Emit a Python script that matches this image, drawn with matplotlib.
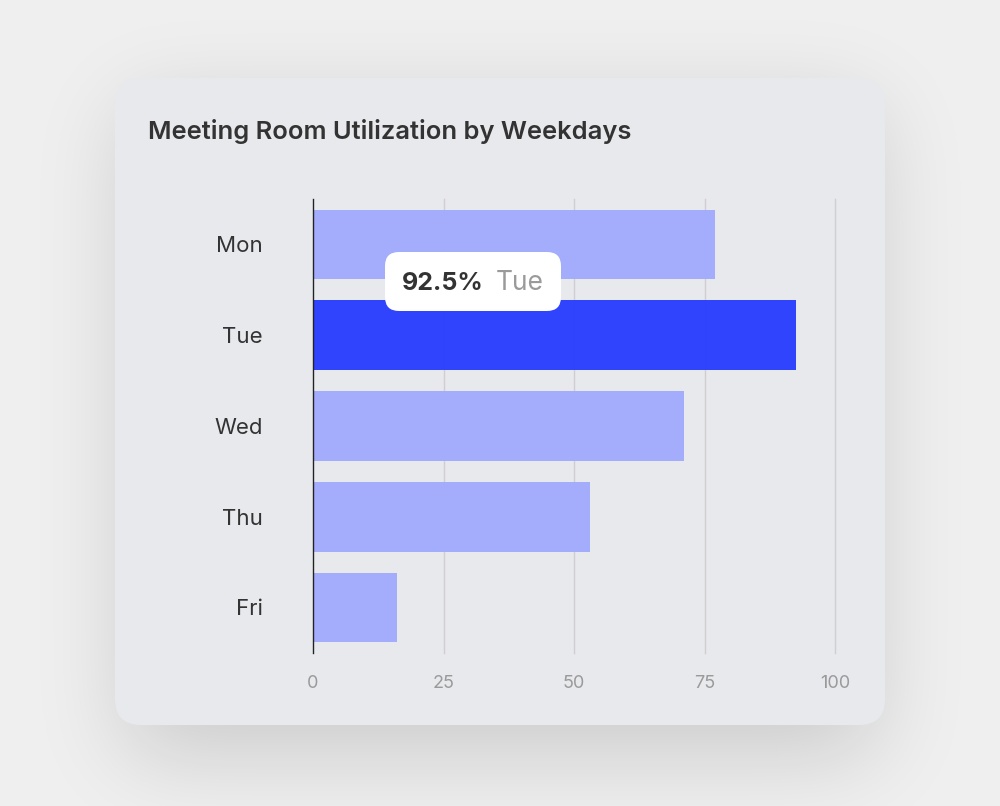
import numpy as np
import matplotlib
matplotlib.use("Agg")
import matplotlib.pyplot as plt
from matplotlib.patches import FancyBboxPatch

# dados do grafico
dias = ["Mon", "Tue", "Wed", "Thu", "Fri"]
utilizacao = [77, 92.5, 71, 53, 16]
destaque = "Tue"
ticks_x = [0, 25, 50, 75, 100]

titulo = "Meeting Room Utilization by Weekdays"

# cores (barras levemente transparentes, deixam a grade aparecer)
cor_fundo = "#efeff0"
cor_card = "#e8e9ed"
cor_barra = "#a2aafd"
cor_destaque = "#283dff"
cor_texto = "#333333"
cor_cinza = "#9a9a9a"

plt.rcParams["font.family"] = ["Inter", "DejaVu Sans"]

fig = plt.figure(figsize=(10, 8.06), dpi=100)
fig.patch.set_facecolor(cor_fundo)

# eixo de fundo em pixels (sombra + card)
fundo = fig.add_axes([0, 0, 1, 1], zorder=0)
fundo.set_xlim(0, 1000)
fundo.set_ylim(806, 0)
fundo.axis("off")

# sombra desfocada do card
H, W = 806, 1000
yy, xx = np.mgrid[0:H, 0:W]
mascara = ((xx > 125) & (xx < 875) & (yy > 105) & (yy < 755)).astype(float)
sigma = 45
k = np.arange(-3 * sigma, 3 * sigma + 1)
kernel = np.exp(-k ** 2 / (2 * sigma ** 2))
kernel /= kernel.sum()
mascara = np.apply_along_axis(lambda r: np.convolve(r, kernel, mode="same"), 1, mascara)
mascara = np.apply_along_axis(lambda c: np.convolve(c, kernel, mode="same"), 0, mascara)
sombra = np.zeros((H, W, 4))
sombra[..., 3] = mascara * 0.15
fundo.imshow(sombra, extent=(0, W, H, 0), zorder=1, interpolation="bilinear")

card = FancyBboxPatch((115, 78), 770, 647, boxstyle="round,pad=0,rounding_size=26",
                      facecolor=cor_card, edgecolor="none", zorder=2)
fundo.add_patch(card)

fundo.text(148, 131, titulo, fontsize=18.4, fontweight="semibold", color=cor_texto,
           ha="left", va="center", zorder=3)

# grafico principal
ax = fig.add_axes([0.313, 0.19, 0.522, 0.563], zorder=1)
ax.set_facecolor("none")

posicoes = np.arange(len(dias))
cores = [cor_destaque if d == destaque else cor_barra for d in dias]
ax.barh(posicoes, utilizacao, height=0.77, color=cores, alpha=0.96, zorder=2)

ax.set_xlim(0, 100)
ax.set_ylim(len(dias) - 0.5, -0.5)
ax.set_xticks(ticks_x)
ax.set_yticks(posicoes)
ax.set_yticklabels(dias)
ax.grid(False)
# linhas de grade (sem corte na borda direita)
for t in ticks_x[1:]:
    ax.axvline(t, color="#cfcfd2", linewidth=1, zorder=1, clip_on=False)
for lado in ["top", "right", "bottom"]:
    ax.spines[lado].set_visible(False)
ax.spines["left"].set_color("#222222")
ax.spines["left"].set_linewidth(1)
ax.spines["left"].set_zorder(3)
ax.tick_params(axis="y", length=0, pad=36, labelsize=16, labelcolor=cor_texto)
ax.tick_params(axis="x", length=0, pad=16, labelsize=13, labelcolor=cor_cinza)

# tooltip
i = dias.index(destaque)
caixa = FancyBboxPatch((385, 252), 176, 59, boxstyle="round,pad=0,rounding_size=14",
                       facecolor="white", edgecolor="none", transform=fundo.transData,
                       zorder=5, clip_on=False)
ax.add_patch(caixa)
ax.text(402, 283, f"{utilizacao[i]}%", transform=fundo.transData, fontsize=18,
        fontweight="bold", color=cor_texto, ha="left", va="center", zorder=6, clip_on=False)
ax.text(496, 283, dias[i], transform=fundo.transData, fontsize=19,
        color=cor_cinza, ha="left", va="center", zorder=6, clip_on=False)

fig.savefig("out.png", dpi=100, facecolor=fig.get_facecolor())
